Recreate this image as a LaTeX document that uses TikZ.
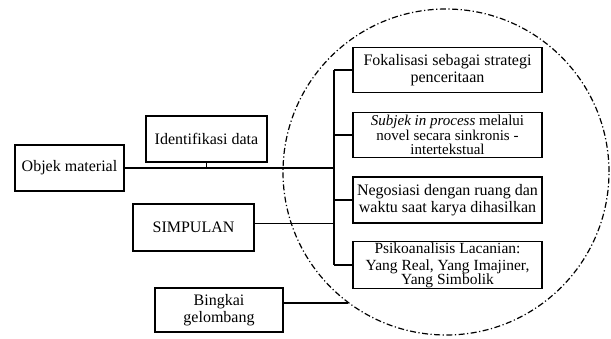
\documentclass[tikz,border=0pt]{standalone}
\usepackage{fontspec}
\setmainfont{Liberation Serif}
\usetikzlibrary{positioning}
\begin{document}
\begin{tikzpicture}[x=1pt,y=-1pt,
    kotak/.style={draw,line width=1.1pt,align=center,inner sep=1pt,font=\fontsize{16}{17.5}\selectfont},
    kanan/.style={kotak,minimum width=189pt,minimum height=45pt},
    garis/.style={line width=1.5pt},
    lingkar/.style={line width=1.2pt,dash pattern=on 6pt off 2.5pt on 1.2pt off 2.5pt}]
\useasboundingbox (0,0) rectangle (611,338);
\draw[lingkar] (446,172) circle (163pt);
\node[kotak,minimum width=109pt,minimum height=46pt] (objek) at (69.5,168) {Objek material};
\node[kotak,minimum width=121pt,minimum height=46pt] (identifikasi) at (206.5,139) {Identifikasi data};
\node[kotak,minimum width=121pt,minimum height=47pt] (simpulan) at (193.5,227.5) {SIMPULAN};
\node[kotak,minimum width=128pt,minimum height=44pt] (bingkai) at (219,310) {Bingkai\\gelombang};
\node[kanan] (fokal) at (447.5,70) {Fokalisasi sebagai strategi\\penceritaan};
\node[kanan,inner sep=0.5pt,font=\fontsize{15}{14.2}\selectfont] (subjek) at (447.5,135) {\textit{Subjek in process} melalui\\novel secara sinkronis -\\intertekstual};
\node[kanan,minimum height=46pt] (negosiasi) at (447.5,200) {Negosiasi dengan ruang dan\\waktu saat karya dihasilkan};
\node[kanan,minimum height=46pt,font=\fontsize{15.5}{17}\selectfont] (psiko) at (447.5,265) {Psikoanalisis Lacanian:\\Yang Real, Yang Imajiner,\\[-3pt]Yang Simbolik};
\coordinate (pusat) at (334,168);
\coordinate (ujung) at (348,303);
\draw[garis] (objek.east) -- (pusat);
\draw[garis] (identifikasi.south) -- (identifikasi.south |- pusat);
\draw[garis] (pusat |- fokal.west) -- (pusat |- psiko.west);
\foreach \n in {fokal,subjek,negosiasi,psiko}
    \draw[garis] (pusat |- \n.west) -- (\n.west);
\draw[garis] ([yshift=4pt]simpulan.east) -- ([yshift=4pt]simpulan.east -| pusat);
\draw[garis] ([yshift=7pt]bingkai.east) -- (ujung);
\end{tikzpicture}
\end{document}
